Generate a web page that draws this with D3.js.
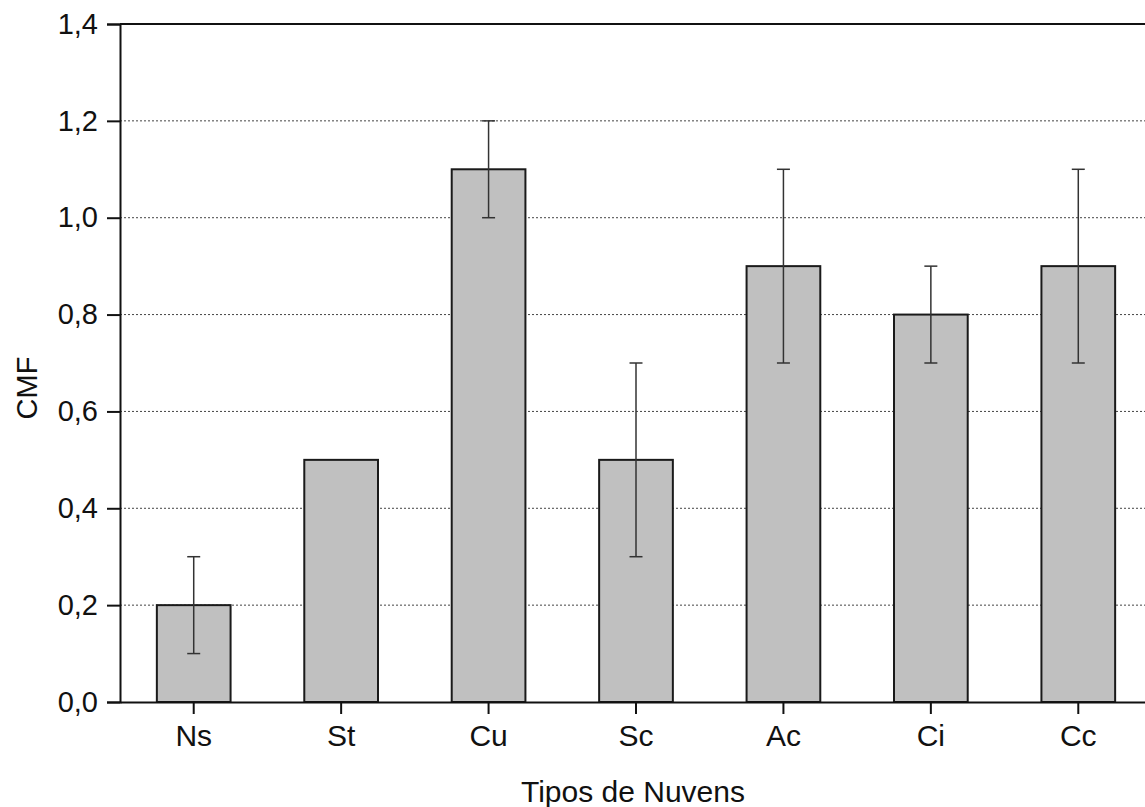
<!DOCTYPE html>
<html>
<head>
<meta charset="utf-8">
<script src="https://cdn.jsdelivr.net/npm/d3@7"></script>
<style>
  html, body { margin: 0; padding: 0; background: #fff; }
  svg { display: block; }
  text { font-family: "Liberation Sans", Arial, sans-serif; fill: #111; }
</style>
</head>
<body>
<svg id="chart" width="1145" height="807"></svg>
<script>
// Cloud types and their CMF means with error ranges
const categories = ["Ns", "St", "Cu", "Sc", "Ac", "Ci", "Cc"];
const cmf = [0.2, 0.5, 1.1, 0.5, 0.9, 0.8, 0.9];
const errLow = [0.1, 0.5, 1.0, 0.3, 0.7, 0.7, 0.7];
const errHigh = [0.3, 0.5, 1.2, 0.7, 1.1, 0.9, 1.1];
const yTicks = [0, 0.2, 0.4, 0.6, 0.8, 1.0, 1.2, 1.4];
const gridValues = [0.2, 0.4, 0.6, 0.8, 1.0, 1.2];

const svg = d3.select("#chart");
const plotLeft = 120, plotRight = 1152, plotTop = 24, plotBottom = 702;

const x = d3.scaleBand().domain(categories).range([plotLeft, plotRight]).paddingInner(0.5).paddingOuter(0.25);
const y = d3.scaleLinear().domain([0, 1.4]).range([plotBottom, plotTop]);
const fmt = d => d3.format(".1f")(d).replace(".", ",");

// dotted horizontal grid
svg.append("g").selectAll("line").data(gridValues).join("line")
  .attr("x1", plotLeft).attr("x2", plotRight)
  .attr("y1", d => y(d)).attr("y2", d => y(d))
  .attr("stroke", "#444").attr("stroke-width", 1)
  .attr("stroke-dasharray", "2,2");

// bars
const data = categories.map((c, i) => ({ c, v: cmf[i], lo: errLow[i], hi: errHigh[i] }));
svg.append("g").selectAll("rect").data(data).join("rect")
  .attr("x", d => x(d.c)).attr("width", x.bandwidth())
  .attr("y", d => y(d.v)).attr("height", d => y(0) - y(d.v))
  .attr("fill", "#c0c0c0").attr("stroke", "#1a1a1a").attr("stroke-width", 2);

// error bars
const eb = svg.append("g").attr("stroke", "#333").attr("stroke-width", 1.5);
data.filter(d => d.hi > d.lo).forEach(d => {
  const cx = x(d.c) + x.bandwidth() / 2;
  eb.append("line").attr("x1", cx).attr("x2", cx).attr("y1", y(d.lo)).attr("y2", y(d.hi));
  [d.lo, d.hi].forEach(v => {
    eb.append("line").attr("x1", cx - 6.5).attr("x2", cx + 6.5).attr("y1", y(v)).attr("y2", y(v));
  });
});

// y axis
const yAxis = svg.append("g").attr("transform", `translate(${plotLeft},0)`)
  .call(d3.axisLeft(y).tickValues(yTicks).tickFormat(fmt).tickSize(13).tickPadding(9));
yAxis.select(".domain").attr("stroke", "#111").attr("stroke-width", 2);
yAxis.selectAll(".tick line").attr("stroke", "#111").attr("stroke-width", 2);
yAxis.selectAll(".tick text").style("font-size", "29px").attr("fill", "#111");

// x axis
const xAxis = svg.append("g").attr("transform", `translate(0,${plotBottom})`)
  .call(d3.axisBottom(x).tickSize(12).tickSizeOuter(0).tickPadding(11));
xAxis.select(".domain").attr("stroke", "#111").attr("stroke-width", 2);
xAxis.selectAll(".tick line").attr("stroke", "#111").attr("stroke-width", 2);
xAxis.selectAll(".tick text").style("font-size", "30px").attr("fill", "#111");

// top frame line
svg.append("line").attr("x1", plotLeft).attr("x2", plotRight).attr("y1", plotTop).attr("y2", plotTop)
  .attr("stroke", "#111").attr("stroke-width", 2);

// axis titles
svg.append("text").attr("x", 633).attr("y", 802)
  .attr("text-anchor", "middle").style("font-size", "30px").text("Tipos de Nuvens");
svg.append("text").attr("transform", "translate(37,388) rotate(-90)")
  .attr("text-anchor", "middle").style("font-size", "29px").text("CMF");
</script>
</body>
</html>
